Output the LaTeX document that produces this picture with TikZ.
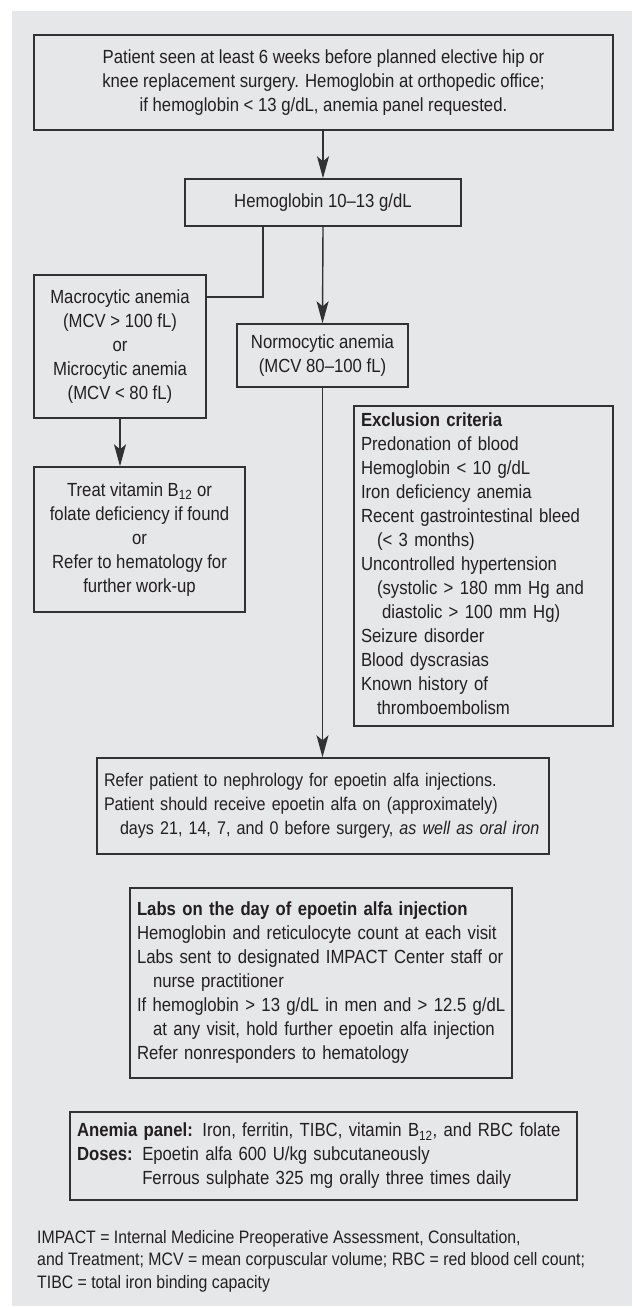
\documentclass[tikz,border=0pt]{standalone}
\usepackage{fontspec}
\setmainfont{Liberation Sans}[FakeStretch=0.88]
\usetikzlibrary{arrows.meta,calc}
\definecolor{panelgray}{RGB}{230,231,232}
\definecolor{linegray}{RGB}{50,50,50}
\definecolor{inkgray}{RGB}{35,31,32}
\newcommand{\ind}{\hspace*{16pt}}
\newcommand{\rows}[1]{\begin{tabular}{@{}l@{}}#1\end{tabular}}

\begin{document}
\begin{tikzpicture}
[x=1pt,y=-1pt,
box/.style={draw=linegray,line width=1.4pt,inner xsep=7pt,inner ysep=0pt,text=inkgray,
  font=\fontsize{19}{24}\selectfont},
cbox/.style={box,align=center},
lbox/.style={box,align=left},
flow/.style={line width=1.4pt,draw=linegray,-{Stealth[length=22pt,width=12pt,inset=5pt]}},
link/.style={line width=1.4pt,draw=linegray}]

% page and grey panel
\useasboundingbox[fill=white] (0,0) rectangle (632,1308);
\fill[panelgray] (12,11) rectangle (632,1306);

% top of the chart
\node[cbox,minimum width=579pt,minimum height=95pt] (seen) at (323.5,82.5)
  {Patient seen at least 6 weeks before planned elective hip or\\
   knee replacement surgery. Hemoglobin at orthopedic office;\\
   if hemoglobin < 13 g/dL, anemia panel requested.};
\node[cbox,minimum width=276pt,minimum height=47pt] (hgb) at (323,202.5)
  {Hemoglobin 10–13 g/dL};

% left branch
\node[cbox,minimum width=172pt,minimum height=143pt] (macro) at (120,346.5)
  {Macrocytic anemia\\(MCV > 100 fL)\\or\\Microcytic anemia\\(MCV < 80 fL)};
\node[cbox,minimum width=211pt,minimum height=145pt] (treat) at (139.5,539.5)
  {Treat vitamin B\textsubscript{12} or\\folate deficiency if found\\or\\
   Refer to hematology for\\further work-up};

% middle branch
\node[cbox,minimum width=171pt,minimum height=63pt] (normo) at (322.5,355.5)
  {Normocytic anemia\\(MCV 80–100 fL)};
\node[lbox,text width=245pt,minimum height=320pt] (excl) at (483.5,566)
  {\rows{\textbf{Exclusion criteria}\\Predonation of blood\\Hemoglobin < 10 g/dL\\
   Iron deficiency anemia\\Recent gastrointestinal bleed\\\ind(< 3 months)\\
   Uncontrolled hypertension\\\ind(systolic > 180 mm Hg and\\
   \hspace*{21pt}diastolic > 100 mm Hg)\\Seizure disorder\\Blood dyscrasias\\
   Known history of\\\ind thromboembolism}};
\node[lbox,text width=438pt,minimum height=96pt,font=\fontsize{18.3}{24}\selectfont] (refer) at (323,806)
  {\rows{Refer patient to nephrology for epoetin alfa injections.\\
   Patient should receive epoetin alfa on (approximately)\\
   \ind days 21, 14, 7, and 0 before surgery, \textit{as well as oral iron}}};

% notes
\node[lbox,text width=368pt,minimum height=190pt] (labs) at (321,983)
  {\rows{\textbf{Labs on the day of epoetin alfa injection}\\
   Hemoglobin and reticulocyte count at each visit\\
   Labs sent to designated IMPACT Center staff or\\\ind nurse practitioner\\
   If hemoglobin > 13 g/dL in men and > 12.5 g/dL\\
   \ind at any visit, hold further epoetin alfa injection\\
   Refer nonresponders to hematology}};
\node[lbox,text width=493pt,minimum height=88pt] (panel) at (323.5,1156)
  {\rows{\textbf{Anemia panel:} Iron, ferritin, TIBC, vitamin B\textsubscript{12}, and RBC folate\\
   \textbf{Doses:} Epoetin alfa 600 U/kg subcutaneously\\
   \phantom{\textbf{Doses:} }Ferrous sulphate 325 mg orally three times daily}};
\node[anchor=north west,inner sep=0pt,align=left,text=inkgray,
  font=\fontsize{18}{22.5}\selectfont] (abbr) at (37,1230)
  {IMPACT = Internal Medicine Preoperative Assessment, Consultation,\\
   and Treatment; MCV = mean corpuscular volume; RBC = red blood cell count;\\
   TIBC = total iron binding capacity};

% connectors
\coordinate (knee) at (263,297);
\draw[flow] (seen.south -| hgb.south) -- (hgb.north);
\draw[flow] (hgb.south) -- (normo.north);
\draw[link] (hgb.south -| knee) -- (knee) -- (knee -| macro.east);
\draw[flow] (macro.south) -- (macro.south |- treat.north);
\draw[flow] (normo.south) -- (normo.south |- refer.north);
\end{tikzpicture}
\end{document}
